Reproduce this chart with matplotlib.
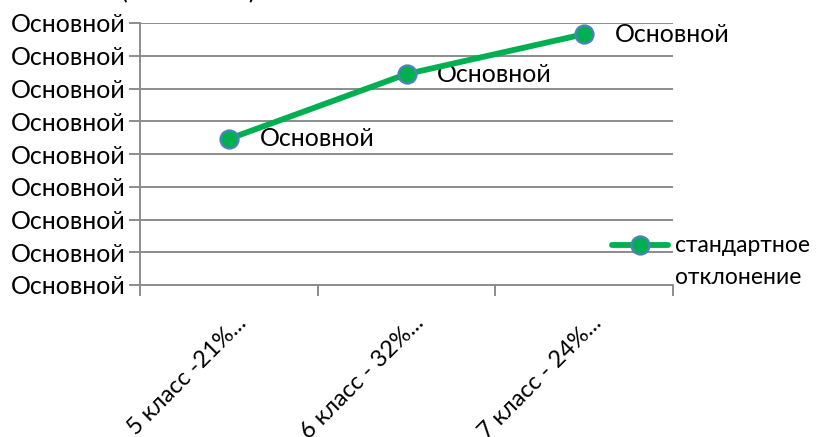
import matplotlib
matplotlib.use("Agg")
import matplotlib.pyplot as plt
from matplotlib.lines import Line2D

# Chart data
categories = ["5 класс -21%...", "6 класс - 32%...", "7 класс - 24%..."]
std_values = [4.46, 6.44, 7.66]
y_ticks = [0, 1, 2, 3, 4, 5, 6, 7, 8]
y_tick_label = "Основной"
point_label = "Основной"
series_name = "стандартное\nотклонение"

GREEN = "#00B050"
EDGE = "#4F81BD"
GRID = "#8C8C8C"
FONT = "Lato"
FS = 18
FS_LEGEND = 16.5

W, H, DPI = 819, 437, 100
fig = plt.figure(figsize=(W / DPI, H / DPI), dpi=DPI)
fig.patch.set_facecolor("white")

def fx(px):
    return px / W

def fy(py):
    return 1 - py / H

left, right, top, bottom = 140, 673, 23, 285
ax = fig.add_axes([fx(left), fy(bottom), fx(right - left), (bottom - top) / H])

x = list(range(len(categories)))
ax.plot(x, std_values, color=GREEN, lw=4.2, marker="o", ms=13,
        markerfacecolor=GREEN, markeredgecolor=EDGE, markeredgewidth=1.6,
        solid_capstyle="round", zorder=5, clip_on=False)

for xi, yi in zip(x, std_values):
    ax.annotate(point_label, xy=(xi, yi), xytext=(22, 0), textcoords="offset points",
                ha="left", va="center", fontsize=FS, family=FONT, color="black")

ax.set_xlim(-0.5, len(categories) - 0.5)
ax.set_ylim(y_ticks[0], y_ticks[-1])
ax.set_yticks(y_ticks)
ax.set_yticklabels([y_tick_label] * len(y_ticks), fontsize=FS, family=FONT)
ax.yaxis.grid(True, color=GRID, lw=1.4)
ax.set_axisbelow(True)

# Category boundary ticks along the bottom axis
ax.set_xticks([i - 0.5 for i in range(len(categories) + 1)])
ax.set_xticklabels([])
ax.tick_params(axis="x", direction="out", length=8, width=1.4, color=GRID)
ax.tick_params(axis="y", direction="out", length=8, width=1.4, color=GRID, pad=2)

for xi, cat in zip(x, categories):
    ax.annotate(cat, xy=(xi, 0), xycoords=("data", "axes fraction"),
                xytext=(10, -25), textcoords="offset points",
                ha="right", va="center", rotation=45, rotation_mode="anchor",
                fontsize=FS_LEGEND + 0.5, family=FONT)

for side in ["top", "right"]:
    ax.spines[side].set_visible(False)
for side in ["left", "bottom"]:
    ax.spines[side].set_color(GRID)
    ax.spines[side].set_linewidth(1.4)

# Legend entry
ly = fy(245)
fig.add_artist(Line2D([fx(612), fx(668)], [ly, ly], color=GREEN, lw=4.2,
                      solid_capstyle="round", transform=fig.transFigure))
fig.add_artist(Line2D([fx(640)], [ly], marker="o", ms=13, markerfacecolor=GREEN,
                      markeredgecolor=EDGE, markeredgewidth=1.6,
                      transform=fig.transFigure))
fig.text(fx(675), ly, series_name.split("\n")[0], ha="left", va="center",
         fontsize=FS_LEGEND, family=FONT)
fig.text(fx(675), fy(278), series_name.split("\n")[1], ha="left", va="center",
         fontsize=FS_LEGEND, family=FONT)

# Chart title partly above the top edge
fig.text(fx(188), fy(-8), "(                   )", ha="center", va="center",
         fontsize=FS, family=FONT)

fig.savefig("out.png", dpi=DPI, facecolor="white")
